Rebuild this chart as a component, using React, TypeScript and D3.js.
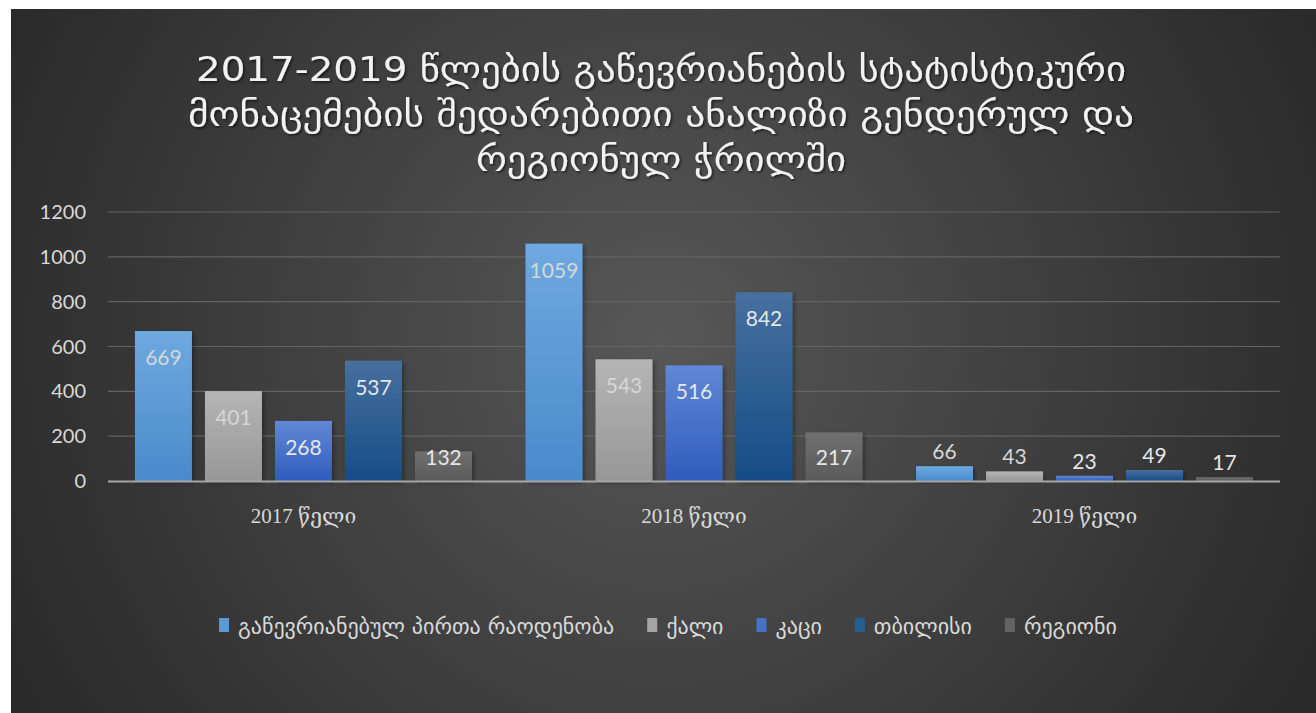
import React, { useEffect, useRef } from 'react';
import * as d3 from 'd3';

const years = ['2017 წელი', '2018 წელი', '2019 წელი'];
const seriesNames = ['გაწევრიანებულ პირთა რაოდენობა', 'ქალი', 'კაცი', 'თბილისი', 'რეგიონი'];
const total = [669, 1059, 66];
const women = [401, 543, 43];
const men = [268, 516, 23];
const tbilisi = [537, 842, 49];
const regions = [132, 217, 17];
const yTicks = [0, 200, 400, 600, 800, 1000, 1200];
const titleLines = [
  '2017-2019 წლების გაწევრიანების სტატისტიკური',
  'მონაცემების შედარებითი ანალიზი გენდერულ და',
  'რეგიონულ ჭრილში',
];

// gradient stops per series: top, bottom
const barColors = [
  ['#6ea9e0', '#4a8acb'],
  ['#b5b5b5', '#979797'],
  ['#6088d6', '#2f5cbd'],
  ['#46709f', '#164d86'],
  ['#707070', '#5a5a5a'],
];
const legendColors = ['#5b9bd5', '#a5a5a5', '#4472c4', '#255e91', '#636363'];

const numFont = 'Lato, "Open Sans", "DejaVu Sans", sans-serif';
const geoFont = '"DejaVu Sans", sans-serif';

const App = () => {
  const ref = useRef<SVGSVGElement>(null);

  useEffect(() => {
    if (!ref.current) return;
    const width = 1316,
      height = 713;
    const svg = d3.select(ref.current);
    svg.selectAll('*').remove();

    const defs = svg.append('defs');
    const bg = defs
      .append('radialGradient')
      .attr('id', 'bg')
      .attr('gradientUnits', 'userSpaceOnUse')
      .attr('cx', 660)
      .attr('cy', 340)
      .attr('r', 720);
    bg.append('stop').attr('offset', '0%').attr('stop-color', '#575757');
    bg.append('stop').attr('offset', '100%').attr('stop-color', '#2a2a2a');

    barColors.forEach((c, i) => {
      const g = defs
        .append('linearGradient')
        .attr('id', 'bar' + i)
        .attr('x1', 0)
        .attr('y1', 0)
        .attr('x2', 0)
        .attr('y2', 1);
      g.append('stop').attr('offset', '0%').attr('stop-color', c[0]);
      g.append('stop').attr('offset', '100%').attr('stop-color', c[1]);
    });

    const shadow = defs.append('filter').attr('id', 'shadow').attr('x', '-20%').attr('y', '-20%').attr('width', '140%').attr('height', '140%');
    shadow
      .append('feDropShadow')
      .attr('dx', 2)
      .attr('dy', 2)
      .attr('stdDeviation', 2)
      .attr('flood-color', '#000')
      .attr('flood-opacity', 0.35);

    const tshadow = defs.append('filter').attr('id', 'tshadow');
    tshadow
      .append('feDropShadow')
      .attr('dx', 1.5)
      .attr('dy', 1.5)
      .attr('stdDeviation', 1.2)
      .attr('flood-color', '#000')
      .attr('flood-opacity', 0.6);

    svg.append('rect').attr('width', width).attr('height', height).attr('fill', '#fff');
    svg.append('rect').attr('x', 11).attr('y', 9).attr('width', width - 11).attr('height', height - 9).attr('fill', 'url(#bg)');

    // Title
    const titleWidths = [930, 946, 370];
    svg
      .append('g')
      .attr('filter', 'url(#tshadow)')
      .selectAll('text')
      .data(titleLines)
      .join('text')
      .attr('x', 661)
      .attr('y', (d, i) => 81 + i * 45)
      .attr('text-anchor', 'middle')
      .attr('fill', '#f2f2f2')
      .attr('font-family', geoFont)
      .attr('font-size', 34)
      .attr('textLength', (d, i) => titleWidths[i])
      .attr('lengthAdjust', 'spacingAndGlyphs')
      .text((d) => d);

    const left = 108,
      right = 1280,
      top = 212,
      bottom = 481;

    const y = d3.scaleLinear().domain([0, 1200]).range([bottom, top]);
    const x0 = d3.scaleBand().domain(years).range([left, right]).paddingInner(0.137).paddingOuter(0.069);
    const x1 = d3.scaleBand().domain(seriesNames.map((d, i) => String(i))).range([0, x0.bandwidth()]).paddingInner(0.186);

    // gridlines
    svg
      .append('g')
      .selectAll('line')
      .data(yTicks.slice(1))
      .join('line')
      .attr('x1', left)
      .attr('x2', right)
      .attr('y1', (d) => y(d))
      .attr('y2', (d) => y(d))
      .attr('stroke', '#636363')
      .attr('stroke-width', 1.2);

    // y tick labels
    svg
      .append('g')
      .selectAll('text')
      .data(yTicks)
      .join('text')
      .attr('x', 86)
      .attr('y', (d) => y(d) + 7)
      .attr('text-anchor', 'end')
      .attr('fill', '#d9d9d9')
      .attr('font-family', numFont)
      .attr('font-size', 20)
      .text((d) => d);

    const series = [total, women, men, tbilisi, regions];
    const rows = years.flatMap((yr, yi) => series.map((s, si) => ({ yr, si, v: s[yi] })));

    svg
      .append('g')
      .selectAll('rect')
      .data(rows)
      .join('rect')
      .attr('x', (d) => x0(d.yr)! + x1(String(d.si))!)
      .attr('y', (d) => y(d.v))
      .attr('width', x1.bandwidth())
      .attr('height', (d) => bottom - y(d.v))
      .attr('fill', (d) => 'url(#bar' + d.si + ')')
      .attr('filter', 'url(#shadow)');

    // baseline
    svg
      .append('line')
      .attr('x1', left)
      .attr('x2', right)
      .attr('y1', bottom + 0.5)
      .attr('y2', bottom + 0.5)
      .attr('stroke', '#a6a6a6')
      .attr('stroke-width', 2);

    // data labels
    svg
      .append('g')
      .selectAll('text')
      .data(rows)
      .join('text')
      .attr('x', (d) => x0(d.yr)! + x1(String(d.si))! + x1.bandwidth() / 2)
      .attr('y', (d) => (bottom - y(d.v) > 25 ? Math.min(y(d.v) + 34, bottom - 16) : y(d.v) - 7))
      .attr('text-anchor', 'middle')
      .attr('fill', (d) => (d.si === 0 || d.si === 1 ? '#d6d6d6' : '#e6e6e6'))
      .attr('font-family', numFont)
      .attr('font-size', 21)
      .text((d) => d.v);

    // category labels
    svg
      .append('g')
      .selectAll('text')
      .data(years)
      .join('text')
      .attr('x', (d) => x0(d)! + x0.bandwidth() / 2)
      .attr('y', 523)
      .attr('text-anchor', 'middle')
      .attr('fill', '#d9d9d9')
      .attr('font-family', '"Liberation Serif", "DejaVu Serif", serif')
      .attr('font-size', 21)
      .text((d) => d);

    // legend
    const legend = svg.append('g').attr('transform', 'translate(0,626)');
    const item = legend
      .selectAll('g')
      .data(seriesNames)
      .join('g');
    item
      .append('text')
      .attr('y', 8)
      .attr('fill', '#d9d9d9')
      .attr('font-family', geoFont)
      .attr('font-size', 22)
      .text((d) => d);
    const widths: number[] = [];
    item.select('text').each(function () {
      widths.push((this as SVGTextElement).getComputedTextLength());
    });
    const gap = 33,
      box = 19;
    const totalW = widths.reduce((a, w) => a + box + w + gap, 0) - gap;
    let cx = 668 - totalW / 2;
    item.each(function (d, i) {
      const g = d3.select(this);
      g.attr('transform', 'translate(' + cx + ',0)');
      g.append('rect').attr('x', 0).attr('y', -8).attr('width', 10).attr('height', 14).attr('fill', legendColors[i]);
      g.select('text').attr('x', box);
      cx += box + widths[i] + gap;
    });
  }, []);

  return (
    <div style={{ position: 'absolute', left: 0, top: 0 }}>
      <svg ref={ref} width={1316} height={713} />
    </div>
  );
};

export default App;
